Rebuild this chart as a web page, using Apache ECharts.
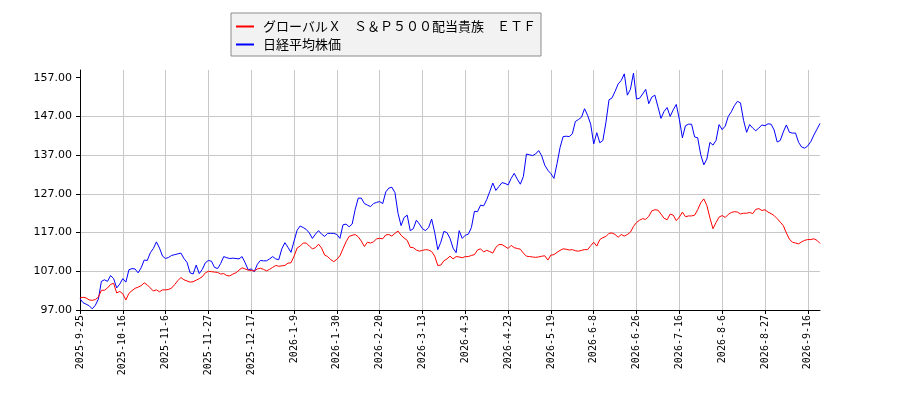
<!DOCTYPE html>
<html lang="ja">
<head>
    <meta charset="UTF-8">
    <title>グローバルＸ　Ｓ＆Ｐ５００配当貴族　ＥＴＦ と 日経平均株価</title>
    <script src="https://cdn.jsdelivr.net/npm/echarts@6/dist/echarts.min.js"></script>
    <style>
        html, body { margin: 0; padding: 0; background: #fff; }
        #main { width: 900px; height: 400px; }
    </style>
</head>
<body>
<div id="main"></div>
<script>
    // 系列名
    let etfName = 'グローバルＸ　Ｓ＆Ｐ５００配当貴族　ＥＴＦ';
    let nikkeiName = '日経平均株価';

    // x軸の目盛り（14営業日ごと）
    let tickStep = 14;
    let tickLabels = ['2025-9-25', '2025-10-16', '2025-11-6', '2025-11-27', '2025-12-17',
        '2026-1-9', '2026-1-30', '2026-2-20', '2026-3-13', '2026-4-3', '2026-4-23',
        '2026-5-19', '2026-6-8', '2026-6-26', '2026-7-16', '2026-8-6', '2026-8-27', '2026-9-16'];

    // y軸の目盛り
    let yTicks = [97, 107, 117, 127, 137, 147, 157];

    // ETF（起点=100）
    let etfValues = [
        100.1, 100.3, 100.1, 99.6, 99.5, 99.7, 100.3, 102.1, 102.1, 102.7, 103.6, 103.9, 101.4, 101.8,
        101.2, 99.6, 101.3, 102.0, 102.6, 102.9, 103.3, 104.0, 103.5, 102.7, 101.9, 102.2, 101.7, 102.2,
        102.2, 102.3, 102.7, 103.6, 104.6, 105.4, 104.8, 104.5, 104.2, 104.3, 104.7, 105.1, 105.6, 106.6,
        107.0, 106.9, 106.8, 106.7, 106.3, 106.4, 105.9, 105.8, 106.3, 106.6, 107.3, 107.9, 107.6, 107.3,
        107.2, 107.1, 107.6, 107.8, 107.5, 107.1, 107.5, 108.0, 108.5, 108.3, 108.4, 108.5, 109.1, 109.2,
        110.9, 113.0, 113.5, 114.3, 114.3, 113.5, 112.8, 113.1, 114.0, 113.0, 111.2, 110.8, 110.0, 109.5,
        110.1, 111.0, 112.8, 114.6, 116.0, 116.3, 116.5, 115.9, 114.8, 113.4, 114.5, 114.3, 114.6, 115.4,
        115.5, 115.4, 116.4, 116.5, 116.1, 116.8, 117.4, 116.3, 115.6, 115.0, 113.2, 113.1, 112.5, 112.2,
        112.4, 112.6, 112.5, 112.1, 110.9, 108.5, 108.6, 109.7, 110.2, 110.9, 110.2, 110.8, 110.7, 110.5,
        110.8, 110.8, 111.1, 111.3, 112.5, 112.8, 112.0, 112.4, 112.1, 111.7, 113.2, 113.9, 113.9, 113.4,
        112.9, 113.7, 113.1, 112.9, 112.7, 111.7, 110.9, 110.8, 110.7, 110.6, 110.7, 110.9, 111.0, 109.9,
        111.2, 111.3, 111.9, 112.4, 112.8, 112.7, 112.5, 112.6, 112.3, 112.2, 112.4, 112.6, 112.6, 113.6,
        114.5, 113.5, 115.2, 115.7, 116.0, 116.8, 116.9, 116.5, 115.8, 116.5, 116.1, 116.5, 117.1, 118.6,
        119.6, 120.2, 120.6, 120.4, 121.2, 122.6, 122.9, 122.8, 121.8, 120.7, 120.3, 121.8, 121.5, 120.1,
        121.0, 122.3, 121.1, 121.3, 121.3, 121.5, 122.9, 124.7, 125.7, 124.0, 120.8, 118.0, 119.6, 121.0,
        121.4, 120.9, 121.7, 122.2, 122.4, 122.3, 121.8, 122.0, 122.0, 122.2, 121.9, 123.0, 123.2, 122.7,
        122.9, 122.3, 121.9, 121.4, 120.6, 119.7, 118.8, 116.9, 115.3, 114.5, 114.3, 114.1, 114.6, 115.0,
        115.2, 115.2, 115.4, 115.0, 114.2
    ];

    // 日経平均（起点=100）
    let nikkeiValues = [
        99.9, 98.9, 98.5, 98.1, 97.3, 98.2, 99.8, 104.4, 104.8, 104.4, 105.9, 105.1, 102.7, 103.7,
        105.1, 104.2, 107.4, 107.7, 107.6, 106.6, 107.9, 109.9, 109.8, 111.8, 112.9, 114.6, 113.0, 110.9,
        110.3, 110.6, 111.1, 111.3, 111.5, 111.7, 110.3, 109.3, 106.6, 106.3, 108.6, 106.4, 107.5, 109.2,
        109.8, 109.6, 108.0, 107.7, 109.0, 110.8, 110.5, 110.3, 110.4, 110.3, 110.2, 110.8, 109.2, 107.4,
        107.6, 106.9, 108.8, 109.8, 109.7, 109.7, 110.2, 110.8, 110.2, 110.0, 112.8, 114.4, 113.2, 111.9,
        114.8, 117.6, 118.7, 118.3, 117.8, 116.9, 115.5, 116.6, 117.5, 116.6, 116.0, 116.8, 116.8, 116.8,
        116.5, 115.5, 119.0, 119.2, 118.5, 119.2, 123.0, 125.9, 125.9, 124.5, 124.1, 123.7, 124.5, 124.8,
        125.0, 124.5, 127.5, 128.5, 128.7, 127.3, 122.0, 118.8, 120.9, 121.5, 117.5, 118.0, 120.2, 119.2,
        118.0, 117.5, 118.3, 120.5, 117.0, 112.6, 114.5, 117.3, 117.0, 115.5, 113.0, 111.8, 117.5, 115.5,
        116.3, 116.6, 118.3, 122.5, 122.4, 124.1, 123.9, 125.5, 127.6, 129.8, 127.9, 128.9, 129.9, 129.7,
        129.3, 131.0, 132.3, 130.8, 129.5, 131.5, 137.3, 137.1, 136.9, 137.3, 138.2, 136.8, 134.4, 133.1,
        132.2, 131.0, 134.8, 139.0, 141.8, 141.9, 141.8, 142.5, 145.7, 146.2, 146.8, 149.0, 147.3, 145.0,
        139.9, 142.8, 140.2, 140.8, 145.5, 151.3, 151.8, 153.5, 155.4, 156.3, 158.0, 152.5, 154.0, 158.2,
        151.5, 151.7, 152.8, 154.0, 150.3, 152.0, 152.5, 149.5, 146.5, 148.3, 149.3, 147.0, 148.7, 150.1,
        146.3, 141.5, 144.6, 145.0, 145.0, 141.7, 141.5, 137.1, 134.5, 136.0, 140.3, 139.6, 140.8, 144.9,
        143.6, 144.5, 147.0, 148.2, 149.8, 150.9, 150.5, 146.0, 142.9, 144.9, 144.0, 143.3, 144.0, 144.8,
        144.6, 145.1, 145.0, 143.5, 140.4, 140.8, 143.0, 144.8, 142.9, 142.7, 142.7, 140.3, 139.1, 138.8,
        139.4, 140.5, 142.2, 143.7, 145.2
    ];

    // カテゴリ（目盛り位置だけ日付を入れる）
    let categories = [];
    for (let i = 0; i < etfValues.length; i++) {
        categories.push(i % tickStep === 0 ? tickLabels[i / tickStep] : '');
    }

    let onTick = function (index) {
        return index % tickStep === 0;
    };

    let mycharts = echarts.init(document.getElementById('main'), null, {renderer: 'canvas'});

    let options = {
        animation: false,
        backgroundColor: '#ffffff',
        legend: {
            orient: 'vertical',
            left: 231,
            top: 13,
            padding: [7, 5, 5, 5],
            itemGap: 5,
            itemWidth: 18,
            itemHeight: 2,
            icon: 'rect',
            backgroundColor: '#f2f2f2',
            borderColor: '#8c8c8c',
            borderWidth: 1,
            borderRadius: 0,
            textStyle: {
                fontFamily: '"Noto Sans CJK JP", sans-serif',
                fontSize: 13,
                color: '#000',
                padding: [0, 0, 0, 4]
            },
            data: [etfName, nikkeiName]
        },
        grid: {
            left: 80,
            right: 80,
            top: 70,
            bottom: 90,
            containLabel: false
        },
        xAxis: {
            type: 'category',
            boundaryGap: false,
            data: categories,
            axisLine: {lineStyle: {color: '#000', width: 1}},
            axisTick: {show: true, interval: onTick, length: 4, lineStyle: {color: '#000'}},
            axisLabel: {
                interval: onTick,
                rotate: 90,
                margin: 5,
                color: '#000',
                fontFamily: '"DejaVu Sans Mono", monospace',
                fontSize: 10
            },
            splitLine: {show: true, interval: onTick, lineStyle: {color: '#c8c8c8', width: 1}}
        },
        yAxis: {
            type: 'value',
            min: 97,
            max: 159,
            interval: 10,
            axisLine: {show: true, lineStyle: {color: '#000', width: 1}},
            axisTick: {show: true, length: 4, lineStyle: {color: '#000'}, customValues: yTicks},
            axisLabel: {
                customValues: yTicks,
                margin: 8,
                color: '#000',
                fontFamily: '"DejaVu Sans", sans-serif',
                fontSize: 11,
                formatter: function (v) {
                    return v.toFixed(2);
                }
            },
            splitLine: {show: true, showMaxLine: false, lineStyle: {color: '#c8c8c8', width: 1}}
        },
        series: [{
            name: etfName,
            type: 'line',
            data: etfValues,
            showSymbol: false,
            symbol: 'none',
            lineStyle: {color: '#ff0000', width: 1},
            itemStyle: {color: '#ff0000'},
            z: 3
        }, {
            name: nikkeiName,
            type: 'line',
            data: nikkeiValues,
            showSymbol: false,
            symbol: 'none',
            lineStyle: {color: '#0000ff', width: 1},
            itemStyle: {color: '#0000ff'},
            z: 2
        }]
    };

    mycharts.setOption(options);
</script>
</body>
</html>
